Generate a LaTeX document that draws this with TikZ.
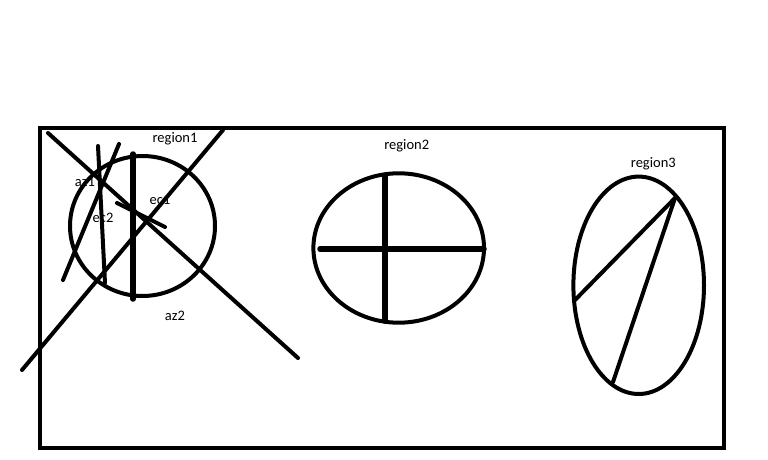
\documentclass[tikz,border=0pt]{standalone}
\usepackage{fontspec}
\setmainfont{Carlito}
\usepackage{tikz}

\tikzset{
  stroke/.style={line width=4pt, line cap=round},
  thickstroke/.style={line width=5.5pt, line cap=round},
  lbl/.style={anchor=base, font=\fontsize{14.5}{16}\selectfont, inner sep=0pt}
}

\begin{document}
\begin{tikzpicture}[x=1pt, y=-1pt]
    \useasboundingbox (0,0) rectangle (768,460);
    % ── Cadre ───────────────────────────────────────────────────────────────
    \draw[stroke, line cap=butt] (40,128) rectangle (724,448);
    % ── Region 1 : cercle + traits croisés ─────────────────────────────────
    \draw[stroke] (142.5,226) ellipse [x radius=72.5, y radius=70];
    \draw[stroke] (48,133) -- (298,358);
    \draw[stroke] (22,370) -- (223,130);
    \draw[thickstroke] (133,154) -- (133,299);
    \draw[stroke] (98,146) -- (105,283);
    \draw[stroke] (119,144) -- (63,280);
    \draw[stroke] (117,203) -- (165,227);
    \node[lbl] (region1) at (175,142) {region1};
    \node[lbl] (az1) at (85,186) {az1};
    \node[lbl] (ec2) at (103,222.5) {ec2};
    \node[lbl] (ec1) at (160,204) {ec1};
    \node[lbl] (az2) at (175,320.5) {az2};
    % ── Region 2 : cercle + croix ───────────────────────────────────────────
    \draw[stroke] (398.7,248) ellipse [x radius=85.3, y radius=74.7];
    \draw[thickstroke] (320,249) -- (484,249);
    \draw[thickstroke] (385,176) -- (385,321);
    \node[lbl] (region2) at (406.7,149) {region2};
    % ── Region 3 : ellipse + deux cordes ────────────────────────────────────
    \draw[stroke] (638.7,285.3) ellipse [x radius=65.3, y radius=108.7];
    \coordinate (top3) at (675,198);
    \draw[stroke] (top3) -- (575,300);
    \draw[stroke] (top3) -- (613,382);
    \node[lbl] (region3) at (653.3,167) {region3};
\end{tikzpicture}
\end{document}
